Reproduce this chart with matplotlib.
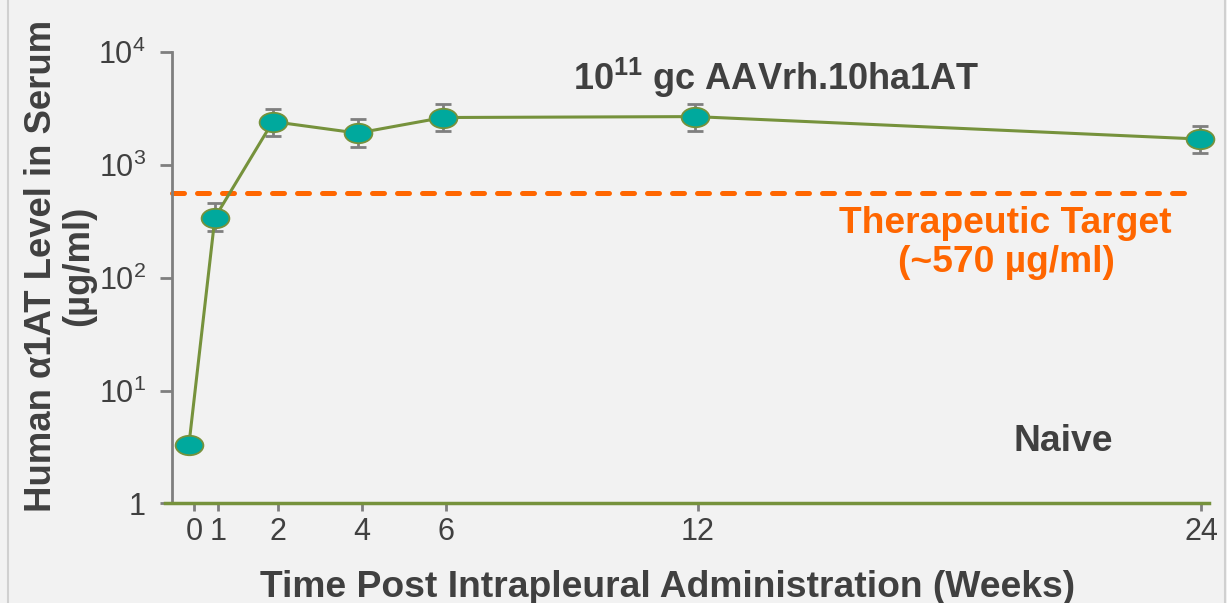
import matplotlib
matplotlib.use("Agg")
import matplotlib.pyplot as plt
from matplotlib.path import Path
from matplotlib.transforms import Affine2D
from matplotlib.lines import Line2D

plt.rcParams['font.family'] = ['Liberation Sans', 'DejaVu Sans']
plt.rcParams['mathtext.fontset'] = 'custom'
plt.rcParams['mathtext.rm'] = 'Liberation Sans'
plt.rcParams['mathtext.bf'] = 'Liberation Sans:bold'
plt.rcParams['mathtext.it'] = 'Liberation Sans:italic'

# values
weeks = [-0.13, 0.49, 1.87, 3.89, 5.93, 11.94, 23.98]
level = [3.3, 342, 2430, 1920, 2640, 2690, 1700]
err_low = [3.3, 262, 1815, 1460, 2010, 2020, 1290]
err_high = [3.3, 459, 3130, 2555, 3490, 3490, 2240]
target = 570

tick_pos = [0, 4 / 7, 2, 4, 6, 12, 24]
tick_labels = ['0', '1', '2', '4', '6', '12', '24']
ytick_pos = [1, 10, 100, 1000, 10000]
ytick_labels = ['1', r'$10^1$', r'$10^2$', r'$10^3$', r'$10^4$']

TEXT = '#404040'
GRAY = '#7f7f7f'
OLIVE = '#76923c'
TEAL = '#00a99d'
ORANGE = '#ff6600'
BG = '#f2f2f2'

fig = plt.figure(figsize=(12.27, 6.03), dpi=100, facecolor=BG)
ax = fig.add_axes([165 / 1227, 99.7 / 603, 1044 / 1227, 451 / 603])
ax.set_facecolor(BG)

# elliptical marker, wider than tall
ellipse = Path.unit_circle().transformed(Affine2D().scale(1.0, 0.7))

yerr = [[l - lo for l, lo in zip(level, err_low)],
        [hi - l for l, hi in zip(level, err_high)]]
ax.errorbar(weeks, level, yerr=yerr, fmt='none', ecolor=GRAY, elinewidth=2,
            capsize=6, capthick=2, zorder=3)
ax.plot(weeks, level, color=OLIVE, lw=2.2, zorder=4)
ax.plot(weeks, level, linestyle='none', marker=ellipse, markersize=20,
        markerfacecolor=TEAL, markeredgecolor=OLIVE, markeredgewidth=1.3,
        zorder=5, clip_on=False)

# therapeutic target line
ax.plot([-0.53, 23.9], [target, target], color=ORANGE, lw=3.6,
        dashes=(2.4, 2.6), dash_capstyle='round', solid_capstyle='round', zorder=2)

ax.set_yscale('log')
ax.set_ylim(1, 10000)
ax.set_xlim(-0.70, 24.19)

ax.set_xticks(tick_pos)
ax.set_xticklabels(tick_labels)
ax.set_yticks(ytick_pos)
ax.set_yticklabels(ytick_labels)
ax.minorticks_off()

for s in ['top', 'right']:
    ax.spines[s].set_visible(False)
ax.spines['left'].set_position(('data', -0.53))
ax.spines['left'].set_color(GRAY)
ax.spines['left'].set_linewidth(2)
ax.spines['bottom'].set_color(OLIVE)
ax.spines['bottom'].set_linewidth(2.5)

ax.tick_params(axis='x', colors=GRAY, length=6, width=2, labelcolor=TEXT,
               labelsize=22, pad=4)
ax.tick_params(axis='y', colors=GRAY, length=9, width=2, labelcolor=TEXT,
               labelsize=22, pad=10)

fig.text(668 / 1227, 6 / 603, 'Time Post Intrapleural Administration (Weeks)',
         ha='center', va='baseline', fontsize=26.8, fontweight='bold', color=TEXT)
fig.text(60 / 1227, 1 - 266 / 603, 'Human \u03b11AT Level in Serum\n(\u00b5g/ml)',
         ha='center', va='center', rotation=90, multialignment='center',
         fontsize=26.3, fontweight='bold', color=TEXT, linespacing=1.05)

fig.text(776 / 1227, 1 - 90 / 603, r'$\mathbf{10^{11}}$ gc AAVrh.10ha1AT',
         ha='center', va='baseline', fontsize=26, fontweight='bold', color=TEXT)
fig.text(1005 / 1227, 1 - 233 / 603, 'Therapeutic Target',
         ha='center', va='baseline', fontsize=26.8, fontweight='bold', color=ORANGE)
fig.text(1006 / 1227, 1 - 272 / 603, '(~570 \u00b5g/ml)',
         ha='center', va='baseline', fontsize=26.8, fontweight='bold', color=ORANGE)
fig.text(1063 / 1227, 1 - 451 / 603, 'Naive',
         ha='center', va='baseline', fontsize=26.8, fontweight='bold', color=TEXT)

# light frame edges
for xp in [8, 1225]:
    fig.add_artist(Line2D([xp / 1227, xp / 1227], [0, 1], color='#d0d0d0', lw=1.5))

fig.savefig('out.png', dpi=100, facecolor=BG)
